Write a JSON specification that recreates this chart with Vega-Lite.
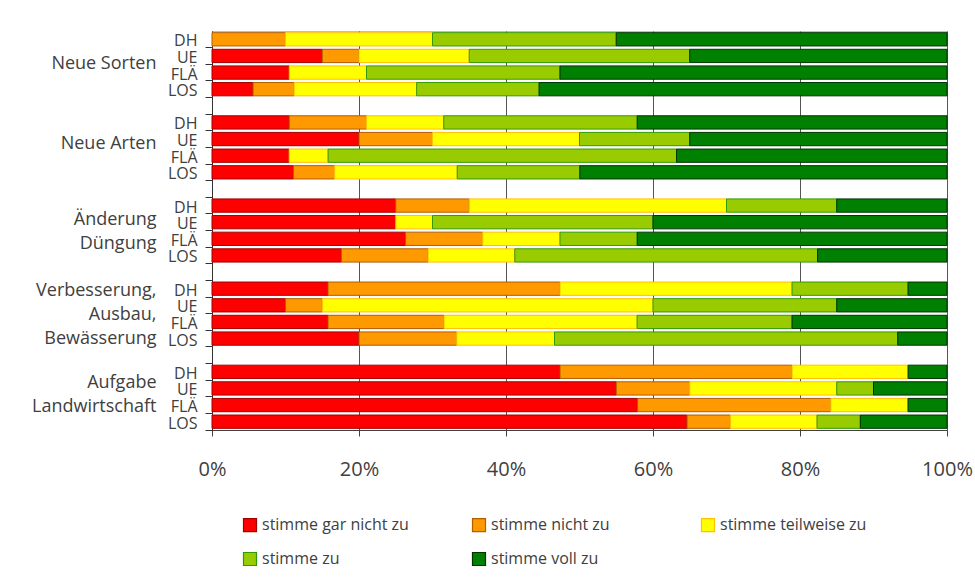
{
  "$schema": "https://vega.github.io/schema/vega-lite/v6.json",
  "autosize": "none",
  "width": 735,
  "height": 399,
  "padding": {"left": 212, "top": 31, "right": 28, "bottom": 153},
  "background": "white",
  "config": {
    "view": {"stroke": "#bfbfbf", "strokeWidth": 1},
    "font": "Open Sans",
    "axis": {"labelFont": "Open Sans", "labelColor": "#404040"}
  },
  "data": {
    "values": [
      {"k": "1|DH", "stimme gar nicht zu": 0, "stimme nicht zu": 10, "stimme teilweise zu": 20, "stimme zu": 25, "stimme voll zu": 45},
      {"k": "1|UE", "stimme gar nicht zu": 15, "stimme nicht zu": 5, "stimme teilweise zu": 15, "stimme zu": 30, "stimme voll zu": 35},
      {"k": "1|FLÄ", "stimme gar nicht zu": 10.5, "stimme nicht zu": 0, "stimme teilweise zu": 10.5, "stimme zu": 26.3, "stimme voll zu": 52.6},
      {"k": "1|LOS", "stimme gar nicht zu": 5.6, "stimme nicht zu": 5.6, "stimme teilweise zu": 16.7, "stimme zu": 16.7, "stimme voll zu": 55.6},
      {"k": "2|DH", "stimme gar nicht zu": 10.5, "stimme nicht zu": 10.5, "stimme teilweise zu": 10.5, "stimme zu": 26.3, "stimme voll zu": 42.1},
      {"k": "2|UE", "stimme gar nicht zu": 20, "stimme nicht zu": 10, "stimme teilweise zu": 20, "stimme zu": 15, "stimme voll zu": 35},
      {"k": "2|FLÄ", "stimme gar nicht zu": 10.5, "stimme nicht zu": 0, "stimme teilweise zu": 5.3, "stimme zu": 47.4, "stimme voll zu": 36.8},
      {"k": "2|LOS", "stimme gar nicht zu": 11.1, "stimme nicht zu": 5.6, "stimme teilweise zu": 16.7, "stimme zu": 16.7, "stimme voll zu": 50},
      {"k": "3|DH", "stimme gar nicht zu": 25, "stimme nicht zu": 10, "stimme teilweise zu": 35, "stimme zu": 15, "stimme voll zu": 15},
      {"k": "3|UE", "stimme gar nicht zu": 25, "stimme nicht zu": 0, "stimme teilweise zu": 5, "stimme zu": 30, "stimme voll zu": 40},
      {"k": "3|FLÄ", "stimme gar nicht zu": 26.3, "stimme nicht zu": 10.5, "stimme teilweise zu": 10.5, "stimme zu": 10.5, "stimme voll zu": 42.1},
      {"k": "3|LOS", "stimme gar nicht zu": 17.6, "stimme nicht zu": 11.8, "stimme teilweise zu": 11.8, "stimme zu": 41.2, "stimme voll zu": 17.6},
      {"k": "4|DH", "stimme gar nicht zu": 15.8, "stimme nicht zu": 31.6, "stimme teilweise zu": 31.6, "stimme zu": 15.8, "stimme voll zu": 5.3},
      {"k": "4|UE", "stimme gar nicht zu": 10, "stimme nicht zu": 5, "stimme teilweise zu": 45, "stimme zu": 25, "stimme voll zu": 15},
      {"k": "4|FLÄ", "stimme gar nicht zu": 15.8, "stimme nicht zu": 15.8, "stimme teilweise zu": 26.3, "stimme zu": 21.1, "stimme voll zu": 21.1},
      {"k": "4|LOS", "stimme gar nicht zu": 20, "stimme nicht zu": 13.3, "stimme teilweise zu": 13.3, "stimme zu": 46.7, "stimme voll zu": 6.7},
      {"k": "5|DH", "stimme gar nicht zu": 47.4, "stimme nicht zu": 31.6, "stimme teilweise zu": 15.8, "stimme zu": 0, "stimme voll zu": 5.3},
      {"k": "5|UE", "stimme gar nicht zu": 55, "stimme nicht zu": 10, "stimme teilweise zu": 20, "stimme zu": 5, "stimme voll zu": 10},
      {"k": "5|FLÄ", "stimme gar nicht zu": 57.9, "stimme nicht zu": 26.3, "stimme teilweise zu": 10.5, "stimme zu": 0, "stimme voll zu": 5.3},
      {"k": "5|LOS", "stimme gar nicht zu": 64.7, "stimme nicht zu": 5.9, "stimme teilweise zu": 11.8, "stimme zu": 5.9, "stimme voll zu": 11.8}
    ]
  },
  "transform": [
    {"fold": ["stimme gar nicht zu", "stimme nicht zu", "stimme teilweise zu", "stimme zu", "stimme voll zu"], "as": ["cat", "v"]},
    {"filter": "datum.v > 0"},
    {"calculate": "indexof(['stimme gar nicht zu','stimme nicht zu','stimme teilweise zu','stimme zu','stimme voll zu'], datum.cat)", "as": "ord"}
  ],
  "layer": [
    {
      "mark": {"type": "bar", "height": {"band": 0.8}, "strokeWidth": 1},
      "encoding": {
        "x": {
          "field": "v", "type": "quantitative", "stack": "normalize",
          "scale": {"domain": [0, 1], "nice": false},
          "axis": {
            "title": null, "format": "%", "values": [0, 0.2, 0.4, 0.6, 0.8, 1],
            "grid": true, "gridColor": "#555555", "gridWidth": 1,
            "domainColor": "#404040", "tickColor": "#404040", "tickSize": 6,
            "labelFontSize": 20, "labelPadding": 23, "labelFlush": false
          }
        },
        "y": {
          "field": "k", "type": "nominal",
          "scale": {
            "domain": ["1|DH", "1|UE", "1|FLÄ", "1|LOS", "g1", "2|DH", "2|UE", "2|FLÄ", "2|LOS", "g2", "3|DH", "3|UE", "3|FLÄ", "3|LOS", "g3", "4|DH", "4|UE", "4|FLÄ", "4|LOS", "g4", "5|DH", "5|UE", "5|FLÄ", "5|LOS"],
            "paddingInner": 0, "paddingOuter": 0
          },
          "axis": {
            "title": null, "orient": "left", "ticks": false, "tickSize": 0, "domain": false, "grid": false,
            "labelExpr": "indexof(datum.value, '|') > 0 ? split(datum.value, '|')[1] : ''",
            "labelFontSize": 16, "labelPadding": 15, "labelOffset": 2, "labelColor": "#404040"
          }
        },
        "fill": {
          "field": "cat", "type": "nominal",
          "scale": {"domain": ["stimme gar nicht zu", "stimme nicht zu", "stimme teilweise zu", "stimme zu", "stimme voll zu"], "range": ["#ff0000", "#ff9900", "#ffff00", "#99cc00", "#008000"]},
          "legend": {
            "title": null, "orient": "none", "direction": "horizontal", "legendX": 30, "legendY": 486, "columns": 3, "gridAlign": "all",
            "columnPadding": 61, "rowPadding": 16, "symbolType": "square", "symbolSize": 169, "symbolStrokeWidth": 1.2,
            "labelFont": "Open Sans", "labelFontSize": 16, "labelColor": "#404040", "labelOffset": 4, "padding": 0, "labelLimit": 300
          }
        },
        "stroke": {
          "field": "cat", "type": "nominal",
          "scale": {"domain": ["stimme gar nicht zu", "stimme nicht zu", "stimme teilweise zu", "stimme zu", "stimme voll zu"], "range": ["#a00000", "#b35c00", "#ffc000", "#339900", "#003300"]},
          "legend": {
            "title": null, "orient": "none", "direction": "horizontal", "legendX": 30, "legendY": 486, "columns": 3, "gridAlign": "all",
            "columnPadding": 61, "rowPadding": 16, "symbolType": "square", "symbolSize": 169, "symbolStrokeWidth": 1.2,
            "labelFont": "Open Sans", "labelFontSize": 16, "labelColor": "#404040", "labelOffset": 4, "padding": 0, "labelLimit": 300
          }
        },
        "order": {"field": "ord", "type": "quantitative"}
      }
    },
    {
      "mark": {"type": "bar", "opacity": 0},
      "encoding": {
        "x": {"field": "v", "type": "quantitative", "stack": "normalize"},
        "y": {
          "field": "k", "type": "nominal",
          "scale": {
            "domain": ["1|DH", "1|UE", "1|FLÄ", "1|LOS", "g1", "2|DH", "2|UE", "2|FLÄ", "2|LOS", "g2", "3|DH", "3|UE", "3|FLÄ", "3|LOS", "g3", "4|DH", "4|UE", "4|FLÄ", "4|LOS", "g4", "5|DH", "5|UE", "5|FLÄ", "5|LOS"],
            "paddingInner": 0, "paddingOuter": 0
          },
          "axis": {
            "title": null, "orient": "left", "bandPosition": 1, "ticks": true, "tickSize": 7, "tickColor": "#333333",
            "domain": true, "domainColor": "#333333", "grid": false,
            "labelExpr": "datum.value == '1|UE' ? 'Neue Sorten' : datum.value == '2|UE' ? 'Neue Arten' : datum.value == '3|UE' ? ['Änderung', 'Düngung'] : datum.value == '4|UE' ? ['Verbesserung,', 'Ausbau,', 'Bewässerung'] : datum.value == '5|UE' ? ['Aufgabe', 'Landwirtschaft'] : ''",
            "labelOffset": {"condition": [
              {"test": "datum.value == '1|UE'", "value": 8},
              {"test": "datum.value == '2|UE'", "value": 5},
              {"test": "datum.value == '3|UE'", "value": -2},
              {"test": "datum.value == '4|UE'", "value": -14}
            ], "value": -5},
            "labelFontSize": 18, "labelPadding": 49, "labelLineHeight": 24, "labelColor": "#404040", "labelLimit": 300
          }
        }
      }
    }
  ],
  "resolve": {"axis": {"y": "independent"}}
}
